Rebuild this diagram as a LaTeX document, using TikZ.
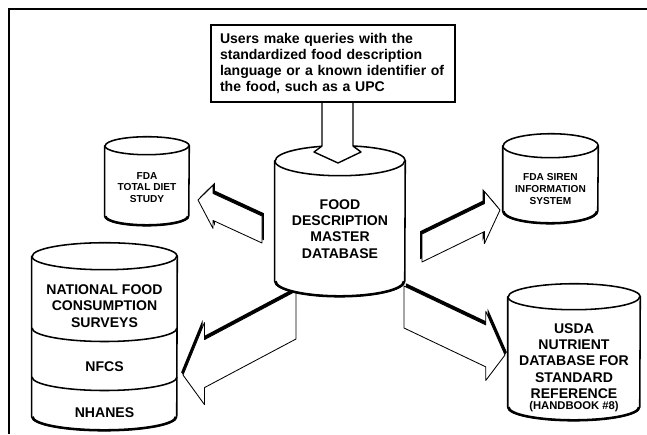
\documentclass[tikz,border=0pt]{standalone}
\usepackage{fontspec}
\setsansfont{Liberation Sans}
\usepackage{tikz}
\usetikzlibrary{calc, shadows}

\tikzset{
  dbox/.style={inner sep=0pt},
  dbline/.style={draw, fill=white, line width=1.1pt, line join=round},
  fatarrow/.style={draw, fill=white, line width=0.6pt, line join=round,
    general shadow={fill=black, shadow xshift=#1, shadow yshift=2pt}},
  bigtxt/.style={align=center, inner sep=0pt, font=\fontsize{10}{11.6}\selectfont},
  smalltxt/.style={align=center, inner sep=0pt, font=\fontsize{7.2}{8.2}\selectfont},
}

% sheared block arrow: tail, tip, head start (fraction), half shaft, half head, shadow shift
\newcommand{\blockarrow}[6]{%
  \draw[fatarrow=#6] ($(#1)+(0,#4)$) -- ($(#1)!#3!(#2)+(0,#4)$)
    -- ($(#1)!#3!(#2)+(0,#5)$) -- (#2) -- ($(#1)!#3!(#2)-(0,#5)$)
    -- ($(#1)!#3!(#2)-(0,#4)$) -- ($(#1)-(0,#4)$) -- cycle;
}

% database drum round a node: node, x radius, y radius
\newcommand{\drawdb}[3]{%
  \draw[dbline] ($(#1.north west)+(0,-#3)$) -- ($(#1.south west)+(0,#3)$)
    arc[start angle=180, end angle=360, x radius=#2, y radius=#3]
    -- ($(#1.north east)+(0,-#3)$)
    arc[start angle=0, end angle=180, x radius=#2, y radius=#3] -- cycle;
  \draw[line width=1.1pt] ($(#1.north west)+(0,-#3)$)
    arc[start angle=180, end angle=360, x radius=#2, y radius=#3];
  \draw[line width=1.8pt] ($(#1.south west)+(0.02,#3)$)
    arc[start angle=180, end angle=360, x radius=#2-0.02, y radius=#3];
}

\begin{document}
\begin{tikzpicture}\sffamily\bfseries
  \useasboundingbox (0,0) rectangle (16.175,-10.85);
  % frame
  \draw[line width=1.2pt] (0.225,-10.85) -- (0.225,-0.225) -- (16.175,-0.225);

  \coordinate (tdstail) at (6.55,-5.7375);
  \coordinate (tdstip) at (4.95,-5.0);
  \coordinate (sirentail) at (10.55,-6.2);
  \coordinate (sirentip) at (12.5,-5.25);
  \coordinate (nfcstail) at (7.4,-7.875);
  \coordinate (nfcstip) at (4.575,-9.375);
  \coordinate (usdatail) at (10.1,-7.675);
  \coordinate (usdatip) at (12.625,-8.875);

  % the four fat arrows out of the master database
  \blockarrow{tdstail}{tdstip}{0.766}{0.3375}{0.5375}{1.3pt}
  \blockarrow{sirentail}{sirentip}{0.8}{0.35}{0.65}{-1.3pt}
  \blockarrow{nfcstail}{nfcstip}{0.81}{0.6}{1.025}{-1.3pt}
  \blockarrow{usdatail}{usdatip}{0.81}{0.525}{0.8625}{1.3pt}

  \node[dbox, minimum width=3.25cm, minimum height=3.75cm] (master) at (8.5,-5.525) {};
  \drawdb{master}{1.625}{0.375}
  \node[bigtxt] (mastertxt) at (8.5,-5.725) {FOOD\\DESCRIPTION\\MASTER\\DATABASE};

  \node[dbox, minimum width=2.1cm, minimum height=2.2cm] (tds) at (3.675,-4.525) {};
  \drawdb{tds}{1.05}{0.225}
  \node[smalltxt] (tdstxt) at (3.675,-4.6875) {FDA\\TOTAL DIET\\STUDY};

  \node[dbox, minimum width=2.375cm, minimum height=2.225cm] (siren) at (13.7625,-4.4625) {};
  \drawdb{siren}{1.1875}{0.3}
  \node[smalltxt] (sirentxt) at (13.7625,-4.725) {FDA SIREN\\INFORMATION\\SYSTEM};

  \node[dbox, minimum width=3.625cm, minimum height=4.675cm] (surveys) at (2.6125,-8.4125) {};
  \drawdb{surveys}{1.8125}{0.3375}
  \draw[line width=1.1pt] (0.8,-8.2) arc[start angle=180, end angle=360,
    x radius=1.8125, y radius=0.3375];
  \draw[line width=1.1pt] (0.8,-9.425) arc[start angle=180, end angle=360,
    x radius=1.8125, y radius=0.3375];
  \node[bigtxt] (surveystxt) at (2.6125,-7.65) {NATIONAL FOOD\\CONSUMPTION\\SURVEYS};
  \node[bigtxt] (nfcs) at (2.6125,-9.175) {NFCS};
  \node[bigtxt] (nhanes) at (2.6125,-10.325) {NHANES};

  \node[dbox, minimum width=3.3cm, minimum height=3.4cm] (usda) at (14.35,-8.8) {};
  \drawdb{usda}{1.65}{0.325}
  \node[bigtxt] (usdatxt) at (14.35,-9.025)
    {USDA\\NUTRIENT\\DATABASE FOR\\STANDARD\\REFERENCE};
  \node[smalltxt, font=\fontsize{8}{9}\selectfont] (handbook) at (14.35,-10.175)
    {(HANDBOOK \#8)};

  % query arrow into the master database
  \coordinate (qfoot) at (8.44,-2.5);
  \coordinate (qtip) at (8.45,-4.075);
  \draw[line width=1pt, fill=white, line join=round]
    ($(qfoot)+(-0.39,0)$) -- ($(qfoot)+(-0.39,-1.15)$) -- ($(qtip)+(-0.6,0.275)$)
    -- (qtip) -- ($(qtip)+(0.575,0.275)$) -- ($(qfoot)+(0.385,-1.15)$)
    -- ($(qfoot)+(0.385,0)$);

  \node[draw, line width=0.8pt, fill=white, minimum width=6.1cm, minimum height=1.925cm,
    text width=5.65cm, align=left, inner xsep=0.225cm,
    font=\fontsize{10}{11.4}\selectfont] (query) at (8.325,-1.5875)
    {Users make queries with the\\standardized food description\\language or a known identifier of\\the food, such as a UPC};
\end{tikzpicture}
\end{document}
